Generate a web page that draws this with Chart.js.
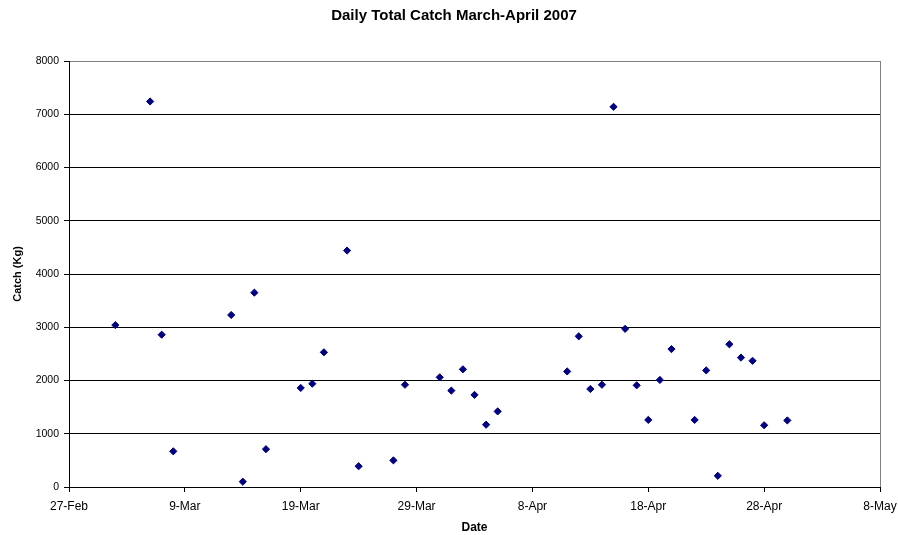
<!DOCTYPE html>
<html>
<head>
<meta charset="utf-8">
<title>Daily Total Catch March-April 2007</title>
<script src="https://cdn.jsdelivr.net/npm/chart.js@4"></script>
<style>
  html, body { margin: 0; padding: 0; background: #fff; }
  #wrap { width: 898px; height: 535px; }
</style>
</head>
<body>
<div id="wrap"><canvas id="c" width="898" height="535"></canvas></div>
<script>
// Daily catch records, March-April 2007
const catchDates = [
  '2007-03-03', '2007-03-06', '2007-03-07', '2007-03-08', '2007-03-13',
  '2007-03-14', '2007-03-15', '2007-03-16', '2007-03-19', '2007-03-20',
  '2007-03-21', '2007-03-23', '2007-03-24', '2007-03-27', '2007-03-28',
  '2007-03-31', '2007-04-01', '2007-04-02', '2007-04-03', '2007-04-04',
  '2007-04-05', '2007-04-11', '2007-04-12', '2007-04-13', '2007-04-14',
  '2007-04-15', '2007-04-16', '2007-04-17', '2007-04-18', '2007-04-19',
  '2007-04-20', '2007-04-22', '2007-04-23', '2007-04-24', '2007-04-25',
  '2007-04-26', '2007-04-27', '2007-04-28', '2007-04-30'
];
const catchKg = [
  3040, 7240, 2860, 670, 3230,
  100, 3650, 710, 1860, 1940,
  2530, 4440, 390, 500, 1920,
  2060, 1810, 2210, 1730, 1170,
  1420, 2170, 2830, 1840, 1920,
  7140, 2970, 1910, 1260, 2010,
  2590, 1260, 2190, 210, 2680,
  2430, 2370, 1160, 1250
];
const xTickLabels = ['27-Feb', '9-Mar', '19-Mar', '29-Mar', '8-Apr', '18-Apr', '28-Apr', '8-May'];
const axisStartDate = '2007-02-27';

// x is measured in days from the axis start date
const DAY = 86400000;
const toDay = s => {
  const [y, m, d] = s.split('-').map(Number);
  const [y0, m0, d0] = axisStartDate.split('-').map(Number);
  return (Date.UTC(y, m - 1, d) - Date.UTC(y0, m0 - 1, d0)) / DAY;
};
const points = catchDates.map((d, i) => ({ x: toDay(d), y: catchKg[i] }));

const FONT = '"Liberation Sans", Arial, sans-serif';

new Chart(document.getElementById('c'), {
  type: 'scatter',
  data: {
    datasets: [{
      label: 'Catch (Kg)',
      data: points,
      pointStyle: 'rectRot',
      pointRadius: 3.6,
      pointHoverRadius: 3.6,
      backgroundColor: '#000080',
      borderColor: '#000080',
      borderWidth: 1
    }]
  },
  options: {
    responsive: false,
    animation: false,
    devicePixelRatio: 1,
    layout: { padding: { left: 28, right: 18, top: 0, bottom: 0 } },
    plugins: {
      legend: { display: false },
      tooltip: { enabled: false },
      title: {
        display: true,
        text: 'Daily Total Catch March-April 2007',
        color: '#000',
        font: { family: FONT, size: 15, weight: 'bold' },
        padding: { top: 7, bottom: 36 }
      }
    },
    scales: {
      x: {
        type: 'linear',
        min: 0,
        max: 70,
        afterFit: s => { s.height = 48; s.paddingLeft = 0; s.paddingRight = 0; },
        ticks: {
          stepSize: 10,
          autoSkip: false,
          maxRotation: 0,
          color: '#000',
          padding: 7,
          font: { family: FONT, size: 12 },
          callback: (v, i) => xTickLabels[i]
        },
        grid: {
          drawOnChartArea: true,
          tickLength: 5,
          lineWidth: 1,
          color: ctx => (ctx.index === xTickLabels.length - 1 ? '#808080' : 'rgba(0,0,0,0)'),
          tickColor: '#000'
        },
        border: { display: true, color: '#000', width: 1 },
        title: {
          display: true,
          text: 'Date',
          color: '#000',
          font: { family: FONT, size: 12, weight: 'bold' },
          padding: { top: 0, bottom: 0 }
        }
      },
      y: {
        min: 0,
        max: 8000,
        afterFit: s => { s.width = 41; },
        ticks: {
          stepSize: 1000,
          color: '#000',
          padding: 5,
          font: { family: FONT, size: 10.5 },
          callback: v => String(v)
        },
        grid: {
          tickLength: 5,
          lineWidth: 1,
          color: ctx => (ctx.tick && ctx.tick.value === 8000 ? '#808080' : '#000'),
          tickColor: '#000'
        },
        border: { display: true, color: '#000', width: 1 },
        title: {
          display: true,
          text: 'Catch (Kg)',
          color: '#000',
          font: { family: FONT, size: 11, weight: 'bold' },
          padding: { top: -17, bottom: 0 }
        }
      }
    }
  }
});
</script>
</body>
</html>
